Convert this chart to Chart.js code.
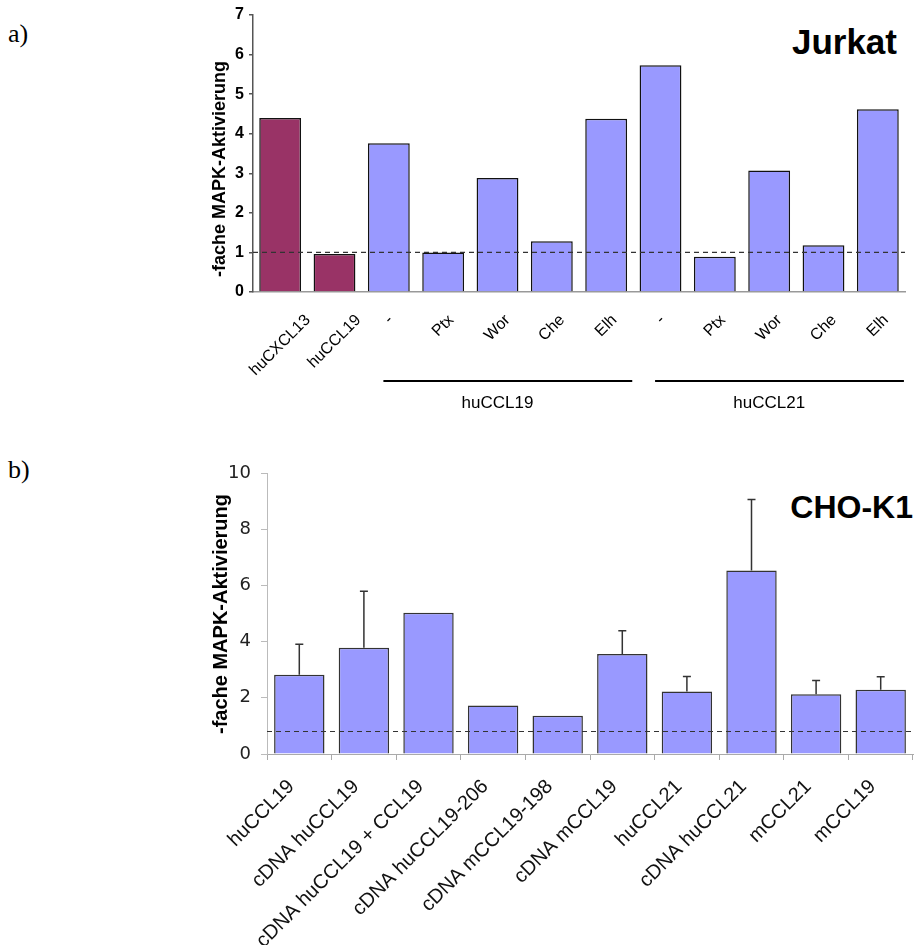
<!DOCTYPE html>
<html>
<head>
<meta charset="utf-8">
<script src="https://cdn.jsdelivr.net/npm/chart.js@4.4.1/dist/chart.umd.min.js"></script>
<style>
  body { margin: 0; background: #fff; width: 915px; height: 945px; position: relative; overflow: hidden; }
  #jurkat { position: absolute; left: 0; top: 0; }
  #cho { position: absolute; left: 0; top: 440px; }
  .panel { position: absolute; font-family: "Liberation Serif", "Times New Roman", serif; font-size: 26px; line-height: 1; }
  .cell { position: absolute; font-family: Arial, "Liberation Sans", sans-serif; font-weight: bold; line-height: 1; color: #000; }
</style>
</head>
<body>
<div class="panel" style="left:8px;top:21px">a)</div>
<div class="panel" style="left:8px;top:457px">b)</div>
<div class="cell" style="right:18px;top:24px;font-size:35px">Jurkat</div>
<div class="cell" style="right:2px;top:491px;font-size:32px">CHO-K1</div>
<canvas id="jurkat" width="915" height="430"></canvas>
<canvas id="cho" width="915" height="505"></canvas>
<script>
const FONT = 'Arial, "Liberation Sans", sans-serif';

// a) Jurkat
const jurkatLabels = ['huCXCL13', 'huCCL19', '-', 'Ptx', 'Wor', 'Che', 'Elh', '-', 'Ptx', 'Wor', 'Che', 'Elh'];
const jurkatValues = [4.40, 0.96, 3.76, 1.00, 2.88, 1.28, 4.38, 5.73, 0.89, 3.07, 1.18, 4.62];
const jurkatControls = 2; // first bars are the plain chemokines
const jurkatGroups = ['huCCL19', 'huCCL21'];
const jurkatGroupRanges = [[2, 6], [7, 11]];
const jurkatBaseline = 1;

// b) CHO-K1
const choLabels = ['huCCL19', 'cDNA huCCL19', 'cDNA huCCL19 + CCL19', 'cDNA huCCL19-206', 'cDNA mCCL19-198',
  'cDNA mCCL19', 'huCCL21', 'cDNA huCCL21', 'mCCL21', 'mCCL19'];
const choValues = [2.82, 3.78, 5.03, 1.73, 1.36, 3.56, 2.22, 6.53, 2.13, 2.29];
const choErrors = [1.09, 2.01, null, null, null, 0.83, 0.54, 2.53, 0.49, 0.46];
const choBaseline = 0.8;

const yTitleText = '-fache MAPK-Aktivierung';

// dashed reference line across the plot
const refLine = {
  id: 'refLine',
  afterDatasetsDraw(chart, args, opts) {
    const { ctx, chartArea, scales: { y } } = chart;
    const py = y.getPixelForValue(opts.value);
    ctx.save();
    ctx.setLineDash([5, 4]);
    ctx.strokeStyle = '#333';
    ctx.lineWidth = 1.2;
    ctx.beginPath();
    ctx.moveTo(chartArea.left, py);
    ctx.lineTo(chartArea.right, py);
    ctx.stroke();
    ctx.restore();
  }
};

// rotated y axis title
const yTitle = {
  id: 'yTitle',
  afterDraw(chart, args, opts) {
    const ctx = chart.ctx;
    ctx.save();
    ctx.translate(opts.x, opts.y);
    ctx.rotate(-Math.PI / 2);
    ctx.font = 'bold ' + opts.size + 'px ' + FONT;
    ctx.fillStyle = '#000';
    ctx.textAlign = 'center';
    ctx.textBaseline = 'middle';
    ctx.fillText(yTitleText, 0, 0);
    ctx.restore();
  }
};

// upper error bars
const errorBars = {
  id: 'errorBars',
  afterDatasetsDraw(chart) {
    const { ctx, scales: { y } } = chart;
    const bars = chart.getDatasetMeta(0).data;
    ctx.save();
    ctx.strokeStyle = '#333';
    ctx.lineWidth = 1.5;
    choErrors.forEach((e, i) => {
      if (e == null) return;
      const x = bars[i].x;
      const y0 = y.getPixelForValue(choValues[i]);
      const y1 = y.getPixelForValue(choValues[i] + e);
      ctx.beginPath();
      ctx.moveTo(x, y0);
      ctx.lineTo(x, y1);
      ctx.moveTo(x - 4, y1);
      ctx.lineTo(x + 4, y1);
      ctx.stroke();
    });
    ctx.restore();
  }
};

// Jurkat category labels (centred under the bars) and treatment groups
const jurkatAxisText = {
  id: 'jurkatAxisText',
  afterDraw(chart) {
    const { ctx, chartArea, scales: { x } } = chart;
    ctx.save();
    ctx.fillStyle = '#000';
    ctx.font = '16px ' + FONT;
    ctx.textAlign = 'center';
    ctx.textBaseline = 'middle';
    jurkatLabels.forEach((lab, i) => {
      const w = ctx.measureText(lab).width;
      ctx.save();
      ctx.translate(x.getPixelForValue(i), chartArea.bottom + 20 + (w + 16) * 0.3536);
      ctx.rotate(-Math.PI / 4);
      ctx.fillText(lab, 0, 0);
      ctx.restore();
    });
    ctx.strokeStyle = '#000';
    ctx.lineWidth = 2;
    ctx.font = '17px ' + FONT;
    jurkatGroups.forEach((g, k) => {
      const [a, b] = jurkatGroupRanges[k];
      const ly = chartArea.bottom + 89;
      ctx.beginPath();
      ctx.moveTo(x.getPixelForValue(a - 0.1), ly);
      ctx.lineTo(x.getPixelForValue(b + 0.48), ly);
      ctx.stroke();
      ctx.fillText(g, (x.getPixelForValue(a) + x.getPixelForValue(b)) / 2, chartArea.bottom + 111);
    });
    ctx.restore();
  }
};

new Chart(document.getElementById('jurkat'), {
  type: 'bar',
  data: {
    labels: jurkatLabels,
    datasets: [{
      data: jurkatValues,
      backgroundColor: jurkatValues.map((v, i) => i < jurkatControls ? '#993366' : '#9999ff'),
      borderColor: '#111',
      borderWidth: 1.5,
      barPercentage: 0.77,
      categoryPercentage: 1.0
    }]
  },
  options: {
    responsive: false,
    animation: false,
    layout: { padding: { left: 0, right: 10, top: 15, bottom: 0 } },
    plugins: {
      legend: { display: false },
      tooltip: { enabled: false },
      refLine: { value: jurkatBaseline },
      yTitle: { x: 220, y: 169, size: 18 }
    },
    scales: {
      x: {
        ticks: { display: false },
        grid: { display: false },
        border: { color: '#999', width: 1.5 },
        afterFit(s) { s.height = 138; }
      },
      y: {
        min: 0,
        max: 7,
        ticks: { stepSize: 1, padding: 5, color: '#000', font: { family: FONT, size: 16, weight: 'bold' } },
        grid: { drawOnChartArea: false, tickLength: 4, color: '#555', lineWidth: 1.5 },
        border: { color: '#555', width: 1.5 },
        afterFit(s) { s.width = 253; }
      }
    }
  },
  plugins: [refLine, yTitle, jurkatAxisText]
});

new Chart(document.getElementById('cho'), {
  type: 'bar',
  data: {
    labels: choLabels,
    datasets: [{
      data: choValues,
      backgroundColor: '#9999ff',
      borderColor: '#333',
      borderWidth: 1.5,
      barPercentage: 0.78,
      categoryPercentage: 1.0
    }]
  },
  options: {
    responsive: false,
    animation: false,
    layout: { padding: { left: 0, right: 2, top: 33, bottom: 0 } },
    plugins: {
      legend: { display: false },
      tooltip: { enabled: false },
      refLine: { value: choBaseline },
      yTitle: { x: 221, y: 174, size: 20 }
    },
    scales: {
      x: {
        ticks: { autoSkip: false, minRotation: 45, maxRotation: 45, padding: 15, labelOffset: -8, color: '#111', font: { family: FONT, size: 20 } },
        grid: { drawOnChartArea: false, tickLength: 6, color: '#aaa' },
        border: { color: '#aaa' },
        afterFit(s) { s.height = 191; }
      },
      y: {
        min: 0,
        max: 10,
        ticks: { stepSize: 2, padding: 10, color: '#222', font: { family: '"DejaVu Sans", sans-serif', size: 18 } },
        grid: { drawOnChartArea: false, tickLength: 6, color: '#bbb' },
        border: { color: '#bbb' },
        afterFit(s) { s.width = 267; }
      }
    }
  },
  plugins: [refLine, yTitle, errorBars]
});
</script>
</body>
</html>
